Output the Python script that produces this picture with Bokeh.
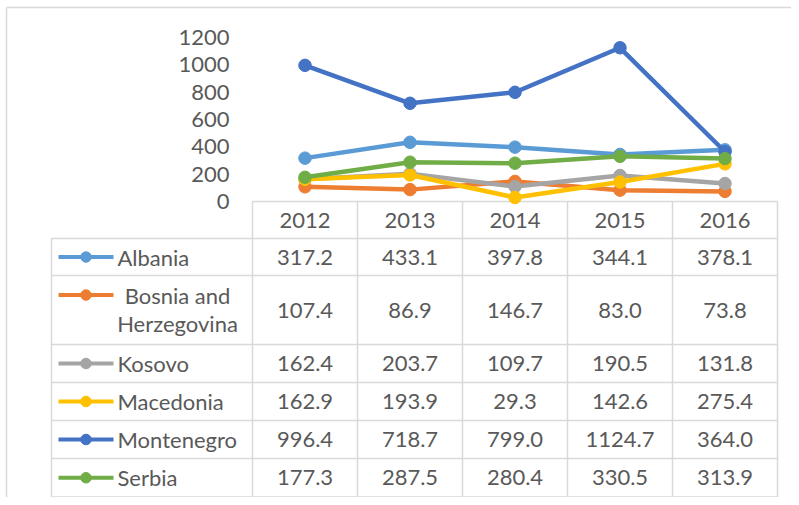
from bokeh.plotting import figure
from bokeh.models import FixedTicker, LinearAxis, Range1d
from bokeh.core.properties import value
from bokeh.embed import file_html
from bokeh.resources import INLINE

# ---------------- data ----------------
years = ["2012", "2013", "2014", "2015", "2016"]
countries = ["Albania", "Bosnia and Herzegovina", "Kosovo", "Macedonia", "Montenegro", "Serbia"]
albania = [317.2, 433.1, 397.8, 344.1, 378.1]
bosnia = [107.4, 86.9, 146.7, 83.0, 73.8]
kosovo = [162.4, 203.7, 109.7, 190.5, 131.8]
macedonia = [162.9, 193.9, 29.3, 142.6, 275.4]
montenegro = [996.4, 718.7, 799.0, 1124.7, 364.0]
serbia = [177.3, 287.5, 280.4, 330.5, 313.9]
y_ticks = [0, 200, 400, 600, 800, 1000, 1200]

series = [albania, bosnia, kosovo, macedonia, montenegro, serbia]
colors = ["#5B9BD5", "#ED7D31", "#A5A5A5", "#FFC000", "#4472C4", "#70AD47"]

# ---------------- layout (pixels of the figure) ----------------
W, H = 791, 497
ZERO_PX, TOP_PX = 201, 37
CAT0_PX, COL_PX = 304.5, 105
PPU = (ZERO_PX - TOP_PX) / 1200.0

def dx(px):
    return (px - CAT0_PX) / COL_PX

def dy(py):
    return (ZERO_PX - py) / PPU

FONT = "Lato"
FSIZE = "22px"
TXT = "#595959"
GRID = "#D9D9D9"

p = figure(width=W, height=H, output_backend="svg", toolbar_location=None,
           x_range=Range1d(dx(0), dx(W)), y_range=Range1d(dy(H), dy(0)),
           x_axis_location=None, y_axis_location=None, min_border=0)
p.outline_line_color = None
p.grid.visible = False
p.background_fill_color = "white"
p.border_fill_color = "white"

yaxis = LinearAxis(ticker=FixedTicker(ticks=y_ticks), fixed_location=dx(252))
yaxis.axis_line_color = None
yaxis.major_tick_line_color = None
yaxis.minor_tick_line_color = None
yaxis.major_tick_in = 0
yaxis.major_tick_out = 0
yaxis.major_label_standoff = 23
yaxis.major_label_text_font = FONT
yaxis.major_label_text_font_size = FSIZE
yaxis.major_label_text_color = TXT
p.add_layout(yaxis, "left")

# outer chart border (top / left)
p.segment(x0=[dx(6), dx(6)], y0=[dy(7), dy(7)],
          x1=[dx(W), dx(6)], y1=[dy(7), dy(H)],
          line_color=GRID, line_width=1.5)

# ---------------- table grid ----------------
row_edges = [201, 238, 275, 344, 382, 420, 458, 496.5]
col_edges = [252, 357, 462, 567, 672, 777]
left_edge = 51
hx0, hy0, hx1, hy1 = [], [], [], []
for i, r in enumerate(row_edges):
    hx0.append(dx(col_edges[0] if i == 0 else left_edge))
    hx1.append(dx(col_edges[-1]))
    hy0.append(dy(r)); hy1.append(dy(r))
for c in col_edges:
    hx0.append(dx(c)); hx1.append(dx(c))
    hy0.append(dy(row_edges[0])); hy1.append(dy(row_edges[-1]))
hx0.append(dx(left_edge)); hx1.append(dx(left_edge))
hy0.append(dy(row_edges[1])); hy1.append(dy(row_edges[-1]))
p.segment(x0=hx0, y0=hy0, x1=hx1, y1=hy1, line_color=GRID, line_width=1.5)

# ---------------- lines ----------------
xs = list(range(len(years)))
for vals, col in zip(series, colors):
    p.line(xs, vals, line_color=col, line_width=4.5)
    p.scatter(xs, vals, size=12.5, fill_color=col, line_color=col)

# ---------------- table text ----------------
centers = [(row_edges[i] + row_edges[i + 1]) / 2 for i in range(len(row_edges) - 1)]
p.text(x=xs, y=[dy(centers[0])] * len(years), text=years,
       text_font=value(FONT), text_font_size=FSIZE, text_color=TXT,
       text_align="center", text_baseline="middle")

for r, (name, vals, col) in enumerate(zip(countries, series, colors)):
    cy = centers[r + 1]
    p.text(x=xs, y=[dy(cy)] * len(vals), text=[f"{v:.1f}" for v in vals],
           text_font=value(FONT), text_font_size=FSIZE, text_color=TXT,
           text_align="center", text_baseline="middle")
    if len(name) > 14:
        parts = name.rsplit(" ", 1)
        key_y = cy - 15
        p.text(x=[dx(177), dx(177)], y=[dy(cy - 14.5), dy(cy + 13.5)], text=parts,
               text_font=value(FONT), text_font_size=FSIZE, text_color=TXT,
               text_align="center", text_baseline="middle")
    else:
        key_y = cy
        p.text(x=[dx(117)], y=[dy(cy)], text=[name],
               text_font=value(FONT), text_font_size=FSIZE, text_color=TXT,
               text_align="left", text_baseline="middle")
    p.line([dx(58), dx(113)], [dy(key_y), dy(key_y)], line_color=col, line_width=4)
    p.scatter([dx(85.5)], [dy(key_y)], size=10.5, fill_color=col, line_color=col)

open("out.html", "w").write(file_html(p, INLINE))
